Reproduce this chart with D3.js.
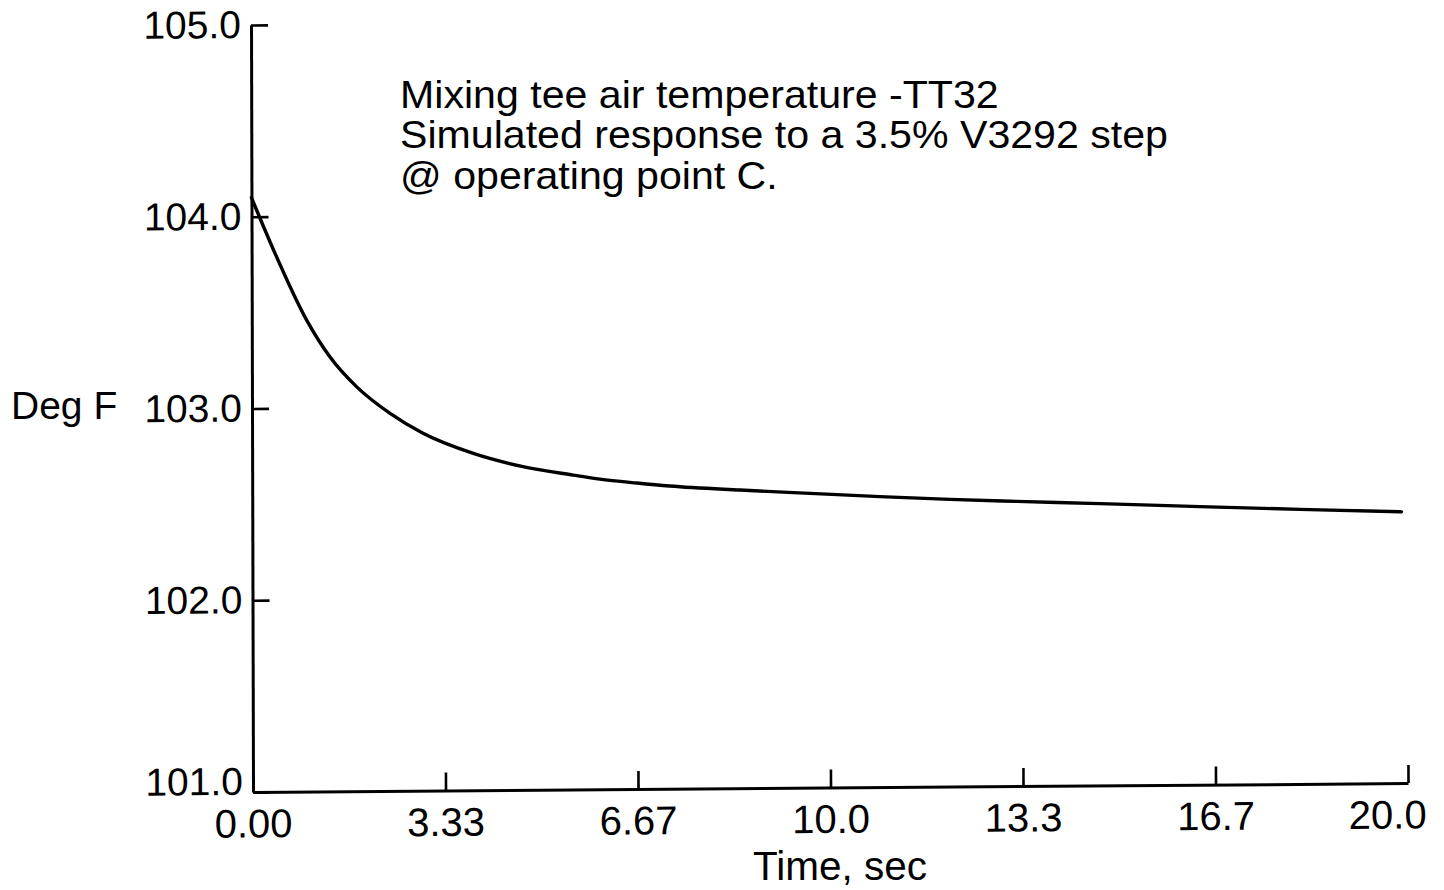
<!DOCTYPE html>
<html>
<head>
<meta charset="utf-8">
<script src="https://cdn.jsdelivr.net/npm/d3@7"></script>
<style>
  html, body { margin: 0; padding: 0; background: #fff; }
  svg { display: block; }
  text { font-family: "Liberation Sans", Arial, Helvetica, sans-serif; fill: #000; }
</style>
</head>
<body>
<svg id="chart" width="1444" height="890"></svg>
<script>
// Simulated TT32 mixing tee air temperature response (Deg F) vs time (s)
const timeSec = [0, 0.38, 0.95, 1.35, 1.81, 2.39, 2.96, 3.83, 4.69, 5.56, 6.02,
                 6.66, 7.23, 8.45, 9.66, 10.87, 12.08, 13.24, 14.68, 16.41, 18.14, 19.9];
const degF = [104.10, 103.826, 103.459, 103.267, 103.110, 102.969, 102.864,
              102.757, 102.686, 102.640, 102.618, 102.596, 102.579, 102.555, 102.535,
              102.515, 102.498, 102.485, 102.470, 102.450, 102.432, 102.415];

const xTickValues = [0, 10 / 3, 20 / 3, 10, 40 / 3, 50 / 3, 20];
const xTickLabels = ["0.00", "3.33", "6.67", "10.0", "13.3", "16.7", "20.0"];
const yTickValues = [101, 102, 103, 104, 105];
const yTickLabels = ["101.0", "102.0", "103.0", "104.0", "105.0"];
const titleLines = [
  "Mixing tee air temperature -TT32",
  "Simulated response to a 3.5% V3292 step",
  "@ operating point C."
];
const xTitle = "Time, sec";
const yTitle = "Deg F";

const svg = d3.select("#chart");
const plotW = 1155, plotH = 767;

const x = d3.scaleLinear().domain([0, 20]).range([0, plotW]);
const y = d3.scaleLinear().domain([101, 105]).range([0, -plotH]);

// plot frame, with the slight skew of the printed sheet
const plot = svg.append("g")
  .attr("transform", "matrix(1,-0.0077,0.0026,1,253,792)");

const fmtX = d => xTickLabels[xTickValues.indexOf(d)];
const fmtY = d => yTickLabels[yTickValues.indexOf(d)];

const xAxis = plot.append("g")
  .call(d3.axisBottom(x).tickValues(xTickValues).tickFormat(fmtX)
    .tickSizeInner(-18).tickSizeOuter(0).tickPadding(17));

const yAxis = plot.append("g")
  .call(d3.axisLeft(y).tickValues(yTickValues).tickFormat(fmtY)
    .tickSizeInner(-17).tickSizeOuter(0).tickPadding(10));

[xAxis, yAxis].forEach(a => {
  a.attr("font-family", null).attr("font-size", null);
  a.select(".domain").attr("stroke", "#000").attr("stroke-width", 3);
  a.selectAll(".tick line").attr("stroke", "#000").attr("stroke-width", 2.6);
  a.selectAll(".tick text").attr("fill", "#000");
});
xAxis.selectAll(".tick text").style("font-size", "40px");
yAxis.selectAll(".tick text").style("font-size", "39px");

// last time label sits flush with the end of the axis
xAxis.selectAll(".tick text").filter(d => d === 20)
  .attr("text-anchor", "end").attr("dx", 18);
// lowest temperature label is lifted clear of the time labels
yAxis.selectAll(".tick text").filter(d => d === 101)
  .attr("dy", "0.06em");

// response curve
const line = d3.line()
  .x((d, i) => x(timeSec[i]))
  .y(d => y(d))
  .curve(d3.curveMonotoneX);

plot.append("path")
  .datum(degF)
  .attr("d", line)
  .attr("fill", "none")
  .attr("stroke", "#000")
  .attr("stroke-width", 3.4)
  .attr("stroke-linejoin", "round")
  .attr("stroke-linecap", "round");

// titles
svg.append("text")
  .attr("x", 11).attr("y", 419)
  .style("font-size", "39px")
  .text(yTitle);

svg.append("text")
  .attr("x", 840).attr("y", 880)
  .attr("text-anchor", "middle")
  .style("font-size", "40.5px")
  .text(xTitle);

// chart caption, set slightly wide like the plotter lettering
svg.append("g")
  .attr("transform", "translate(400,0) scale(1.068,1)")
  .selectAll("text")
  .data(titleLines)
  .join("text")
  .attr("x", 0)
  .attr("y", (d, i) => 108 + i * 40.5)
  .style("font-size", "38.5px")
  .text(d => d);
</script>
</body>
</html>
